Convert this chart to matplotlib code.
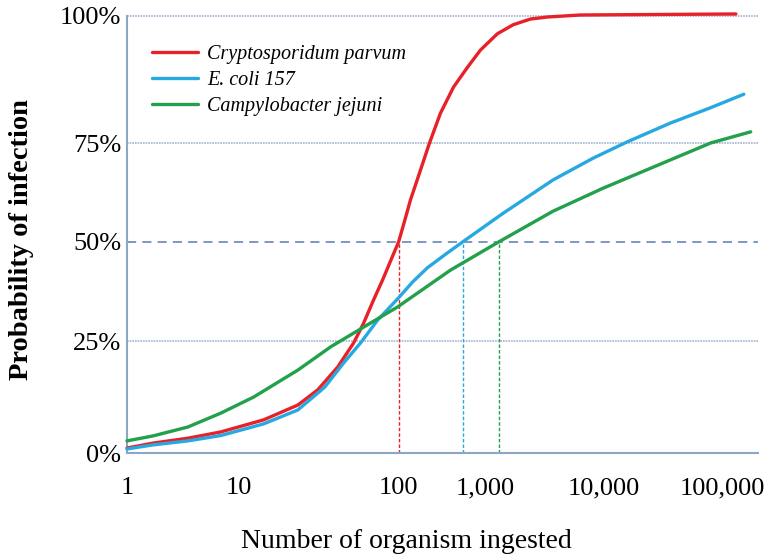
#!/usr/bin/env python3
"""
Dose-response curves: probability of infection vs. number of organisms ingested
"""

import numpy as np
import matplotlib
matplotlib.use('Agg')
import matplotlib.pyplot as plt

# Data
RED_N = [1, 1.7, 3.5, 6.9, 14.3, 23.4, 31.2, 41.6, 52.4, 60.4, 69.8, 79.4, 93,
         100, 118, 137, 179, 227, 304, 429, 621, 877, 1260, 1720, 2390, 3320,
         6280, 131000]
RED_P = [1.1, 2.2, 3.3, 4.7, 7.4, 10.7, 14.1, 19.2, 24.6, 29.5, 35.4, 40.4,
         47.0, 50, 55.5, 60.6, 68.2, 75, 80.9, 86.0, 89.9, 93.3, 96.5, 98.3,
         99.4, 99.8, 100.2, 100.4]

BLUE_N = [1, 1.7, 3.5, 6.9, 14.3, 23.4, 34.5, 45.3, 57.9, 74, 100, 145, 215,
          347, 545, 1416, 3720, 8100, 15600, 36200, 79000, 153000]
BLUE_P = [0.9, 1.8, 2.7, 3.9, 6.5, 9.6, 14.7, 20.1, 24.6, 30.3, 35.9, 39.9,
          43.5, 46.9, 50, 57.3, 65.7, 71.2, 75.2, 78.9, 81.9, 84.6]

GREEN_N = [1, 1.7, 3.5, 6.9, 12.4, 23.4, 37.6, 60.4, 98.6, 396, 1290, 3720,
           9800, 26000, 80000, 175000]
GREEN_P = [2.7, 3.8, 5.8, 8.9, 12.5, 18.5, 23.7, 28.5, 33.6, 42.9, 50, 57.8,
           63.6, 68.9, 75, 77.2]

SERIES = ["Cryptosporidum parvum", "E. coli 157", "Campylobacter jejuni"]
HALF_N = [100, 545, 1290]   # dose giving 50 % infection

X_TICKS = [1, 10, 100, 1000, 10000, 100000]
X_LABELS = ["1", "10", "100", "1,000", "10,000", "100,000"]
Y_TICKS = [0, 25, 50, 75, 100]
Y_LABELS = ["0%", "25%", "50%", "75%", "100%"]

COLORS = ['#e82128', '#28a8e0', '#22a04b']

# The original axes are hand-spaced: piecewise-linear scales
X_KNOTS_LOG = [-1, 0, 1, 2, 3, 4, 5, 6]
X_KNOTS_PX = [14, 126, 238, 398, 485, 604, 722, 840]
Y_KNOTS_V = [-25, 0, 25, 50, 75, 100, 125]
Y_KNOTS_PX = [-112, 0, 112, 211, 310, 437, 564]


def x_fwd(n):
    return np.interp(np.log10(np.clip(n, 1e-3, None)), X_KNOTS_LOG, X_KNOTS_PX)


def x_inv(p):
    return 10 ** np.interp(p, X_KNOTS_PX, X_KNOTS_LOG)


def y_fwd(v):
    return np.interp(v, Y_KNOTS_V, Y_KNOTS_PX)


def y_inv(p):
    return np.interp(p, Y_KNOTS_PX, Y_KNOTS_V)


plt.rcParams['font.family'] = ['Liberation Serif', 'DejaVu Serif']

fig = plt.figure(figsize=(7.69, 5.54), dpi=100)
ax = fig.add_axes([127 / 769, 101 / 554, 631 / 769, 437 / 554])

ax.set_xscale('function', functions=(x_fwd, x_inv))
ax.set_yscale('function', functions=(y_fwd, y_inv))
ax.set_xlim(1, x_inv(758))
ax.set_ylim(0, 100)

# Reference lines
grid_col = '#9fb4d0'
for v in Y_TICKS[1:]:
    if v == 50:
        ax.axhline(v, color='#5a7db0', lw=1.1, ls=(0, (6, 4)), zorder=1)
    else:
        ax.axhline(v, color=grid_col, lw=1.2, ls=(0, (1, 0.6)), zorder=1,
                   clip_on=False)

for n, c in zip(HALF_N, COLORS):
    ax.plot([n, n], [0, 50], color=c, lw=1.0, ls=(0, (2.5, 1.5)), zorder=2)

# Curves
for xs, ys, c, name in zip([RED_N, BLUE_N, GREEN_N], [RED_P, BLUE_P, GREEN_P],
                           COLORS, SERIES):
    ax.plot(xs, ys, color=c, lw=2.4, label=name, clip_on=False, zorder=3,
            solid_capstyle='round', solid_joinstyle='round')

# Axes styling
for side in ['top', 'right']:
    ax.spines[side].set_visible(False)
for side in ['left', 'bottom']:
    ax.spines[side].set_color('#8ea6c6')
    ax.spines[side].set_linewidth(1.5)

ax.set_xticks(X_TICKS)
ax.set_xticklabels(X_LABELS, fontsize=19)
ax.set_yticks(Y_TICKS)
ax.set_yticklabels(Y_LABELS, fontsize=19)
ax.minorticks_off()
ax.tick_params(axis='x', length=0, pad=17.5)
ax.tick_params(axis='y', length=0, pad=4)

fig.text(22 / 769, 1 - 240 / 554, 'Probability of infection', rotation=90,
         fontsize=20.5, fontweight='bold', ha='center', va='center')
fig.text(406 / 769, 1 - 541 / 554, 'Number of organism ingested',
         fontsize=20, ha='center', va='center')

leg = ax.legend(loc='upper left', bbox_to_anchor=(0.027, 0.952), frameon=False,
                prop={'style': 'italic', 'size': 14.5}, handlelength=2.3,
                handletextpad=0.45, labelspacing=0.33, borderaxespad=0)
for line in leg.get_lines():
    line.set_linewidth(2.4)

plt.savefig('out.png', dpi=100)
plt.close()
